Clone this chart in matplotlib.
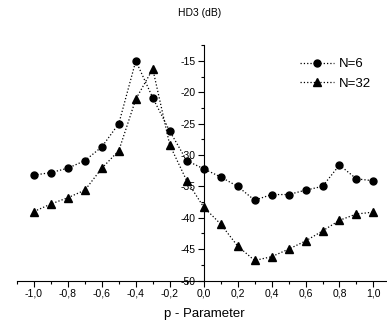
import numpy as np
import matplotlib
matplotlib.use("Agg")
from matplotlib import pyplot as plt
from matplotlib.ticker import MultipleLocator, FuncFormatter

plt.rcParams['font.family'] = ['Liberation Sans', 'DejaVu Sans']

p = [-1.0, -0.9, -0.8, -0.7, -0.6, -0.5, -0.4, -0.3, -0.2, -0.1, 0.0,
     0.1, 0.2, 0.3, 0.4, 0.5, 0.6, 0.7, 0.8, 0.9, 1.0]
hd3_n6 = [-33.2, -32.8, -32.1, -30.9, -28.7, -25.0, -15.0, -20.9, -26.2, -30.9, -32.2,
          -33.5, -35.0, -37.2, -36.3, -36.3, -35.6, -35.0, -31.6, -33.8, -34.1]
hd3_n32 = [-39.0, -37.8, -36.8, -35.6, -32.1, -29.3, -21.1, -16.3, -28.4, -34.1, -38.3,
           -41.0, -44.5, -46.8, -46.2, -45.0, -43.7, -42.1, -40.4, -39.4, -39.1]

fig = plt.figure(figsize=(3.87, 3.27), dpi=100)
ax = fig.add_axes([17/387, 0.142, 370/387, 0.72])

ax.plot(p, hd3_n6, ':', color='black', lw=0.9, marker='o', ms=5, label='N=6')
ax.plot(p, hd3_n32, ':', color='black', lw=0.9, marker='^', ms=6, label='N=32')

ax.set_xlim(-1.1, 1.08)
ax.set_ylim(-50, -12.5)

# y axis sits at p = 0
ax.spines['left'].set_position(('data', 0))
ax.spines['top'].set_visible(False)
ax.spines['right'].set_visible(False)
for s in ['left', 'bottom']:
    ax.spines[s].set_linewidth(0.8)

ax.xaxis.set_major_locator(MultipleLocator(0.2))
ax.xaxis.set_minor_locator(MultipleLocator(0.1))
ax.yaxis.set_major_locator(MultipleLocator(5))
ax.yaxis.set_minor_locator(MultipleLocator(2.5))
ax.xaxis.set_major_formatter(FuncFormatter(lambda v, pos: ('%.1f' % v).replace('.', ',').replace('-0,0', '0,0')))
ax.yaxis.set_major_formatter(FuncFormatter(lambda v, pos: '%d' % v))

ax.tick_params(which='major', direction='out', length=4, width=0.8, labelsize=7.5, pad=2)
ax.tick_params(which='minor', direction='out', length=2, width=0.8)

ax.legend(loc='upper left', bbox_to_anchor=(300/387, 1 - 58/327), bbox_transform=fig.transFigure,
          frameon=False, fontsize=9.5, borderpad=0, borderaxespad=0,
          handlelength=2.6, handletextpad=0.35, labelspacing=0.55)

fig.text(0.517, 0.96, 'HD3 (dB)', ha='center', va='center', fontsize=7.5)
fig.text(0.527, 0.04, 'p - Parameter', ha='center', va='center', fontsize=9.5)

fig.savefig('out.png', dpi=100)
